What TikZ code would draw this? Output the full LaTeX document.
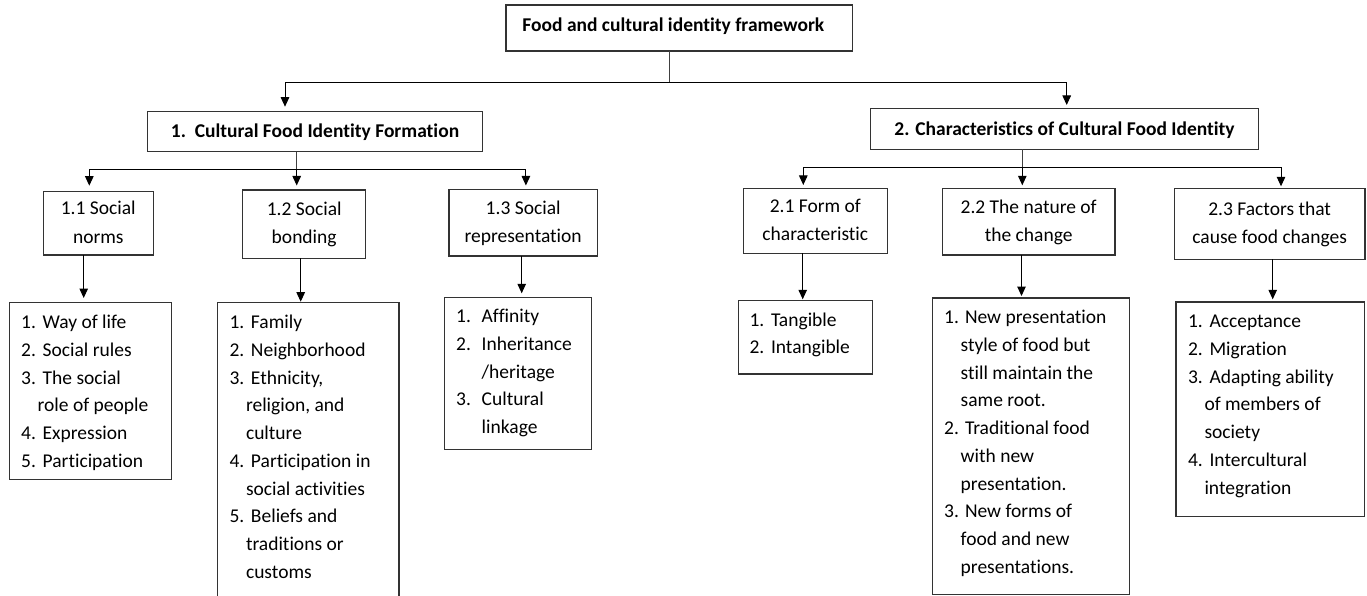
\documentclass[tikz,border=0pt]{standalone}
\usepackage{fontspec}
\setmainfont{Carlito}[Ligatures=NoCommon]
\usetikzlibrary{arrows.meta}

% list helpers: numbered item with fixed label box, and continuation indent
\newcommand{\lnum}[2][21.5pt]{\strut\makebox[#1][l]{#2}}
\newcommand{\lcont}[1][16.5pt]{\strut\hspace*{#1}}

\begin{document}
\begin{tikzpicture}[x=1pt, y=-1pt,
  every node/.style={inner sep=0pt, outer sep=0pt},
  box/.style={draw=black!80, line width=1.1pt, rectangle},
  topbox/.style={box, font=\fontsize{19.5}{27.75}\selectfont\bfseries,
    text height=16pt, text depth=3.4pt},
  hdr/.style={box, align=center, font=\fontsize{19.5}{28.3}\selectfont},
  lbox/.style={box, anchor=north west},
  ltext/.style={anchor=north west, align=left,
    font=\fontsize{19.5}{27.75}\selectfont},
  wire/.style={draw=black!75, line width=1pt},
  arr/.style={draw=black, line width=1pt,
    -{Triangle[width=8.5pt,length=9.5pt]}}
]
\useasboundingbox (0,0) rectangle (1367,596);

% ---- level 0 and 1 ----
\node[topbox, minimum width=346.7pt, minimum height=46pt,
  text height=14pt, text depth=7.4pt] (title) at (679.35,28)
  {Food and cultural identity framework\hspace*{12pt}};
\node[topbox, minimum width=335.4pt, minimum height=40pt] (b1) at (315,131.7)
  {1.\ \ Cultural Food Identity Formation};
\node[topbox, minimum width=387.6pt, minimum height=41pt] (b2) at (1064.5,128.8)
  {2. Characteristics of Cultural Food Identity};

% ---- level 2 headers ----
\node[hdr, minimum width=110pt, minimum height=63.3pt] (h11) at (98.3,223.35)
  {\strut 1.1 Social\\\strut norms};
\node[hdr, minimum width=123pt, minimum height=68.3pt] (h12) at (304.2,224.15)
  {\strut 1.2 Social\\\strut bonding};
\node[hdr, minimum width=148.3pt, minimum height=66.7pt] (h13) at (523.15,222.65)
  {\strut 1.3 Social\\\strut representation};
\node[hdr, minimum width=144pt, minimum height=65pt] (h21) at (815.3,220.8)
  {\strut 2.1 Form of\\\strut characteristic};
\node[hdr, minimum width=172.7pt, minimum height=66.7pt] (h22) at (1028.65,221.65)
  {\strut 2.2 The nature of\\\strut the change};
\node[hdr, minimum width=190.7pt, minimum height=71pt] (h23) at (1269.65,223.8)
  {\strut 2.3 Factors that\\\strut cause food changes};

% ---- level 3 list boxes ----
\node[lbox, minimum width=162.4pt, minimum height=176.6pt] (l11) at (9.3,302.7) {};
\node[anchor=north west, minimum width=181.7pt, minimum height=293.3pt] (l12) at (217.3,302.7) {};
\draw[draw=black!80, line width=1.1pt]
  (l12.south west) -- (l12.north west) -- (l12.north east) -- (l12.south east);
\node[lbox, minimum width=147pt, minimum height=152pt] (l13) at (444.3,297.3) {};
\node[lbox, minimum width=134.2pt, minimum height=73.3pt] (l21) at (738.5,300.7) {};
\node[lbox, minimum width=197.2pt, minimum height=296.5pt] (l22) at (932.6,298) {};
\node[lbox, minimum width=188.8pt, minimum height=214.7pt] (l23) at (1176,302) {};

% ---- list texts ----
\node[ltext] (t11) at (21.2,309.3) {%
  \lnum{1.}Way of life\\
  \lnum{2.}Social rules\\
  \lnum{3.}The social\\
  \lcont role of people\\
  \lnum{4.}Expression\\
  \lnum{5.}Participation};
\node[ltext] (t12) at (229.5,309.3) {%
  \lnum{1.}Family\\
  \lnum{2.}Neighborhood\\
  \lnum{3.}Ethnicity,\\
  \lcont religion, and\\
  \lcont culture\\
  \lnum{4.}Participation in\\
  \lcont social activities\\
  \lnum{5.}Beliefs and\\
  \lcont traditions or\\
  \lcont customs};
\node[ltext] (t13) at (456.2,303.3) {%
  \lnum[25.5pt]{1.}Affinity\\
  \lnum[25.5pt]{2.}Inheritance\\
  \lcont[25.5pt]/heritage\\
  \lnum[25.5pt]{3.}Cultural\\
  \lcont[25.5pt]linkage};
\node[ltext] (t21) at (749.5,306.6) {%
  \lnum{1.}Tangible\\
  \lnum{2.}Intangible};
\node[ltext] (t22) at (944.2,304.3) {%
  \lnum[20.8pt]{1.}New presentation\\
  \lcont style of food but\\
  \lcont still maintain the\\
  \lcont same root.\\
  \lnum[20.8pt]{2.}Traditional food\\
  \lcont with new\\
  \lcont presentation.\\
  \lnum[20.8pt]{3.}New forms of\\
  \lcont food and new\\
  \lcont presentations.};
\node[ltext] (t23) at (1188,308.3) {%
  \lnum{1.}Acceptance\\
  \lnum{2.}Migration\\
  \lnum{3.}Adapting ability\\
  \lcont of members of\\
  \lcont society\\
  \lnum{4.}Intercultural\\
  \lcont integration};

% ---- connectors: title to level 1 ----
\coordinate (j0) at (669,82.7);
\coordinate (x1) at (285,0);
\coordinate (x2) at (1066.7,0);
\draw[wire] (title.south -| j0) -- (j0);
\draw[arr, shorten >=5pt] (j0) -| (b1.north -| x1);
\draw[arr, shorten >=3.3pt] (j0) -| (b2.north -| x2);

% ---- level 1 to headers (left branch) ----
\coordinate (j1) at (296.7,170);
\coordinate (x11) at (89.3,0);
\coordinate (x13) at (525.9,0);
\draw[wire] (b1.south -| j1) -- (j1);
\draw[arr, shorten >=6pt] (j1) -| (h11.north -| x11);
\draw[arr, shorten >=4.5pt] (j1) -- (h12.north -| j1);
\draw[arr, shorten >=3.8pt] (j1) -| (h13.north -| x13);

% ---- level 1 to headers (right branch) ----
\coordinate (j2) at (1022.3,167.3);
\coordinate (x21) at (803.3,0);
\coordinate (x23) at (1281,0);
\draw[wire] (b2.south -| j2) -- (j2);
\draw[arr, shorten >=3.3pt] (j2) -| (h21.north -| x21);
\draw[arr, shorten >=3pt] (j2) -- (h22.north -| j2);
\draw[arr, shorten >=2pt] (j2) -| (h23.north -| x23);

% ---- headers to lists ----
\coordinate (y11) at (83.7,0);
\coordinate (y12) at (300.7,0);
\coordinate (y13) at (521.7,0);
\coordinate (y21) at (802.7,0);
\coordinate (y22) at (1021.5,0);
\coordinate (y23) at (1272.7,0);
\draw[arr, shorten >=4.7pt] (h11.south -| y11) -- (l11.north -| y11);
\draw[arr, shorten >=1pt] (h12.south -| y12) -- (l12.north -| y12);
\draw[arr, shorten >=4pt] (h13.south -| y13) -- (l13.north -| y13);
\draw[arr, shorten >=1.4pt] (h21.south -| y21) -- (l21.north -| y21);
\draw[arr, shorten >=2pt] (h22.south -| y22) -- (l22.north -| y22);
\draw[arr, shorten >=2.7pt] (h23.south -| y23) -- (l23.north -| y23);
\end{tikzpicture}
\end{document}
